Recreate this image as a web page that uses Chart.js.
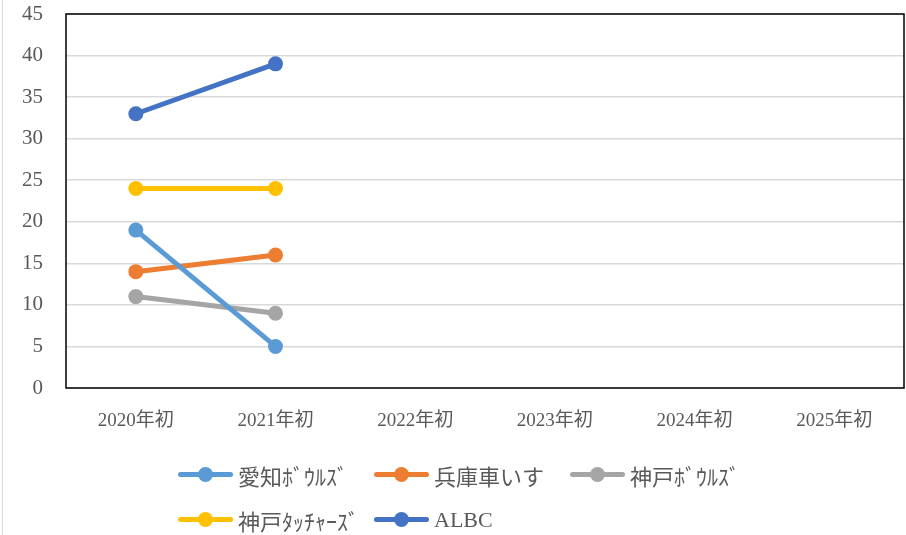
<!DOCTYPE html>
<html>
<head>
<meta charset="utf-8">
<script src="https://cdn.jsdelivr.net/npm/chart.js@4"></script>
<style>
  body { margin: 0; background: #fff; }
  #wrap { position: relative; width: 906px; height: 535px; }
  #frame { position: absolute; left: 2px; top: 0; width: 1px; height: 535px; background: #d9d9d9; }
  #legend {
    position: absolute; left: 178px; top: 452px;
    display: grid; grid-template-columns: repeat(3, 196px); grid-auto-rows: 45px;
    font-family: "Liberation Serif", "Noto Sans CJK JP", serif; font-size: 22px; color: #595959;
  }
  .item { display: flex; align-items: center; white-space: nowrap; }
  .mark { position: relative; width: 55px; height: 15px; margin-right: 5px; }
  .mark .ln { position: absolute; left: 0; top: 5px; width: 55px; height: 5px; border-radius: 3px; }
  .mark .dot { position: absolute; left: 20px; top: 0; width: 15px; height: 15px; border-radius: 50%; }
</style>
</head>
<body>
<div id="wrap">
  <canvas id="myChart" width="906" height="535"></canvas>
  <div id="frame"></div>
  <div id="legend"></div>
</div>
<script>
"use strict";

const categories = ["2020年初", "2021年初", "2022年初", "2023年初", "2024年初", "2025年初"];
const aichiBowls = [19, 5];
const hyogoWheelchair = [14, 16];
const kobeBowls = [11, 9];
const kobeTouchers = [24, 24];
const albc = [33, 39];
const yTicks = [0, 5, 10, 15, 20, 25, 30, 35, 40, 45];

const seriesNames = ["愛知ﾎﾞｳﾙｽﾞ", "兵庫車いす", "神戸ﾎﾞｳﾙｽﾞ", "神戸ﾀｯﾁｬｰｽﾞ", "ALBC"];
const seriesColors = ["#5B9BD5", "#ED7D31", "#A5A5A5", "#FFC000", "#4472C4"];
const seriesData = [aichiBowls, hyogoWheelchair, kobeBowls, kobeTouchers, albc];

const textColor = "#595959";
const yFont = { family: "'Liberation Serif', 'Noto Sans CJK JP', serif", size: 21 };
const xFont = { family: "'Liberation Serif', 'Noto Sans CJK JP', serif", size: 19 };

// black frame round the plot area
const plotFrame = {
  id: "plotFrame",
  afterDraw(chart) {
    const a = chart.chartArea;
    const ctx = chart.ctx;
    ctx.save();
    ctx.strokeStyle = "#000";
    ctx.lineWidth = 1.5;
    ctx.strokeRect(a.left, a.top, a.right - a.left, a.bottom - a.top);
    ctx.restore();
  },
};

const ctx = document.getElementById("myChart");

const chart = new Chart(ctx, {
  type: "line",
  data: {
    labels: categories,
    datasets: seriesData.map((d, i) => ({
      label: seriesNames[i],
      data: d,
      borderColor: seriesColors[i],
      backgroundColor: seriesColors[i],
      borderWidth: 5,
      pointRadius: 7.5,
      pointHoverRadius: 7.5,
      pointBorderWidth: 0,
      tension: 0,
    })),
  },
  options: {
    responsive: false,
    animation: false,
    layout: {
      autoPadding: false,
      padding: { top: 14, right: 2, left: 0, bottom: 87 },
    },
    plugins: {
      legend: { display: false },
      tooltip: { enabled: false },
    },
    scales: {
      x: {
        offset: true,
        grid: { display: false, drawTicks: false },
        border: { display: false },
        ticks: { color: textColor, font: xFont, padding: 22, maxRotation: 0 },
        afterFit: (s) => {
          s.height = 60;
          s.paddingLeft = 0;
          s.paddingRight = 0;
        },
      },
      y: {
        min: 0,
        max: 45,
        afterBuildTicks: (s) => { s.ticks = yTicks.map((v) => ({ value: v })); },
        grid: { color: "#d9d9d9", lineWidth: 1.5, drawTicks: false },
        border: { display: false },
        ticks: { color: textColor, font: yFont, padding: 23 },
        afterFit: (s) => {
          s.width = 66;
          s.paddingTop = 0;
          s.paddingBottom = 0;
        },
      },
    },
  },
  plugins: [plotFrame],
});

// legend laid out like the Excel one
const legend = document.getElementById("legend");
chart.data.datasets.forEach((ds) => {
  const item = document.createElement("div");
  item.className = "item";
  item.innerHTML =
    '<span class="mark"><span class="ln" style="background:' + ds.borderColor + '"></span>' +
    '<span class="dot" style="background:' + ds.borderColor + '"></span></span>' +
    "<span>" + ds.label + "</span>";
  legend.appendChild(item);
});
</script>
</body>
</html>
